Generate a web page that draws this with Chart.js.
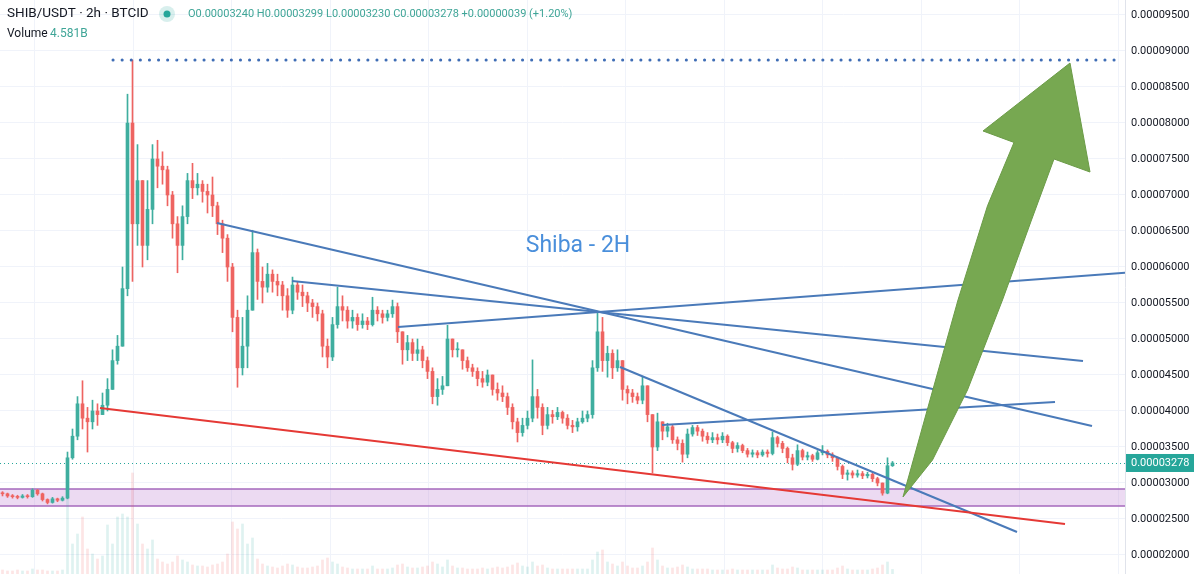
<!DOCTYPE html>
<html>
<head>
<meta charset="utf-8">
<script src="https://cdn.jsdelivr.net/npm/chart.js@4.4.1/dist/chart.umd.min.js"></script>
<style>
  html, body { margin: 0; padding: 0; background: #ffffff; }
  #wrap { width: 1200px; height: 574px; position: relative; }
</style>
</head>
<body>
<div id="wrap"><canvas id="shib_canvas"></canvas></div>
<script>
// prices in units of 0.000001 USDT, one candle per 2h
const first_open = 28.6;
const closes = [
  28.5, 28.2, 28.1, 28.0, 28.2, 28.1, 29.0, 28.5, 27.7, 27.3,
  27.8, 27.6, 27.9, 33.5, 36.5, 41.0, 39.0, 38.5, 40.0, 39.5,
  40.8, 43.0, 47.0, 49.0, 57.0, 80.0, 66.0, 72.0, 63.0, 68.0,
  75.0, 74.0, 73.5, 70.0, 66.0, 63.0, 67.0, 72.0, 71.0, 71.5,
  70.5, 70.0, 68.5, 66.0, 64.0, 60.0, 53.0, 46.0, 49.0, 54.0,
  62.0, 58.0, 57.2, 59.0, 58.0, 57.5, 56.0, 54.0, 57.5, 56.5,
  56.0, 55.0, 54.5, 53.5, 49.0, 47.5, 52.0, 54.5, 54.0, 52.5,
  53.0, 52.0, 52.5, 52.0, 54.0, 53.5, 53.0, 53.5, 54.5, 51.0,
  48.5, 49.5, 48.0, 48.5, 47.0, 45.5, 42.0, 43.0, 43.5, 50.0,
  48.5, 48.5, 47.0, 46.0, 45.5, 44.5, 44.0, 45.0, 43.0, 42.5,
  42.0, 40.5, 38.5, 37.0, 38.0, 39.0, 42.0, 40.5, 38.0, 39.5,
  39.2, 39.8, 39.0, 38.0, 37.8, 38.5, 39.0, 39.5, 46.0, 51.0,
  47.0, 48.0, 46.0, 47.0, 43.0, 42.5, 42.0, 41.5, 43.5, 39.5,
  35.0, 38.5, 37.2, 37.8, 36.0, 35.5, 34.0, 36.8, 37.7, 37.2,
  36.5, 36.0, 36.3, 36.0, 36.5, 35.6, 34.8, 35.2, 34.5, 34.0,
  34.2, 33.9, 34.3, 34.1, 36.3, 35.5, 34.8, 33.5, 32.6, 34.5,
  33.6, 33.8, 33.3, 34.2, 34.4, 33.9, 33.5, 32.3, 31.2, 31.4,
  31.1, 31.3, 31.0, 31.2, 30.6, 30.0, 28.6, 32.4, 32.78
];
const highs = [
  28.8, 28.6, 28.4, 28.3, 28.4, 28.4, 29.2, 29.1, 28.6, 27.8,
  28.0, 27.9, 28.1, 34.3, 37.5, 42.0, 44.2, 40.5, 41.5, 41.0,
  42.5, 44.5, 48.5, 50.5, 60.0, 84.0, 88.75, 77.0, 72.0, 72.0,
  77.0, 77.6, 76.0, 74.0, 70.5, 67.0, 68.5, 73.0, 74.4, 73.0,
  72.0, 71.5, 72.5, 69.0, 66.5, 64.5, 60.5, 54.0, 53.0, 56.0,
  65.1, 62.5, 60.0, 60.5, 59.6, 59.0, 58.0, 57.0, 58.6, 58.0,
  57.5, 56.5, 55.5, 55.0, 54.0, 50.0, 53.0, 57.2, 56.0, 54.5,
  54.0, 53.5, 53.5, 53.0, 55.8, 54.5, 54.0, 54.0, 55.4, 55.0,
  51.0, 50.5, 50.0, 50.0, 49.0, 47.5, 46.0, 44.5, 44.8, 51.9,
  50.0, 49.5, 48.5, 47.5, 46.5, 46.0, 45.5, 45.7, 45.0, 43.9,
  43.5, 42.5, 41.0, 39.0, 39.0, 40.0, 47.1, 43.0, 41.0, 40.5,
  40.1, 40.5, 40.0, 39.5, 38.7, 39.0, 40.0, 40.0, 47.0, 53.6,
  53.0, 49.0, 48.5, 48.5, 47.0, 43.5, 43.0, 42.5, 44.7, 43.5,
  39.5, 39.7, 38.5, 38.3, 38.0, 36.4, 36.0, 37.5, 38.0, 38.0,
  37.5, 37.0, 37.0, 36.8, 37.0, 36.7, 35.8, 35.6, 35.4, 34.8,
  34.6, 34.5, 34.6, 34.6, 37.1, 36.5, 35.8, 35.0, 34.0, 35.3,
  34.7, 34.3, 34.0, 34.5, 35.2, 34.6, 34.2, 33.6, 32.5, 31.8,
  31.7, 31.8, 31.6, 31.5, 31.4, 30.8, 30.0, 33.5, 32.99
];
const lows = [
  28.2, 28.0, 27.9, 27.8, 27.9, 27.9, 28.0, 28.3, 27.5, 27.1,
  27.2, 27.4, 27.5, 27.8, 33.3, 36.0, 37.5, 34.3, 37.5, 38.0,
  39.5, 40.0, 43.0, 46.5, 49.0, 56.0, 58.0, 63.0, 60.0, 61.0,
  66.0, 71.0, 71.5, 68.5, 64.0, 59.2, 61.0, 66.0, 69.5, 70.0,
  69.0, 67.5, 67.0, 64.5, 62.0, 58.0, 51.0, 43.3, 45.0, 46.0,
  54.0, 55.5, 55.0, 56.5, 56.5, 56.0, 54.0, 53.0, 53.5, 55.5,
  54.5, 53.8, 53.0, 52.5, 47.5, 46.0, 47.0, 51.5, 52.5, 51.5,
  51.5, 51.2, 51.5, 51.3, 51.8, 52.5, 52.2, 52.5, 53.0, 49.5,
  46.5, 47.0, 47.0, 47.0, 46.0, 44.5, 41.0, 40.8, 42.3, 43.5,
  47.5, 47.5, 45.8, 45.5, 44.8, 43.5, 43.3, 43.5, 42.2, 41.5,
  41.3, 39.5, 37.5, 35.7, 36.5, 37.5, 38.5, 39.0, 36.7, 37.5,
  38.3, 38.8, 38.3, 37.5, 37.0, 37.2, 38.3, 38.5, 39.0, 45.5,
  45.5, 44.7, 44.5, 45.5, 41.5, 41.0, 41.2, 41.0, 41.0, 38.5,
  31.4, 34.5, 36.0, 36.4, 35.5, 34.6, 32.9, 33.5, 36.5, 36.6,
  35.8, 35.5, 35.6, 35.4, 35.6, 35.2, 34.2, 34.3, 34.2, 33.6,
  33.6, 33.5, 33.7, 33.6, 33.9, 35.0, 34.2, 32.8, 31.8, 32.4,
  33.2, 33.2, 33.0, 33.2, 33.9, 33.5, 33.0, 31.8, 30.6, 30.4,
  30.7, 30.8, 30.6, 30.7, 30.2, 29.6, 28.3, 28.5, 32.30
];
// volume in billions
const volumes = [
  4, 3, 3, 4, 3, 3, 5, 4, 4, 3,
  3, 3, 4, 77, 30, 40, 57, 25, 20, 15,
  18, 49, 30, 57, 60, 57, 101, 50, 30, 25,
  34, 15, 12, 10, 12, 18, 14, 12, 9, 8,
  8, 7, 9, 10, 12, 20, 52, 45, 50, 30,
  36, 15, 10, 8, 7, 6, 8, 10, 9, 7,
  6, 6, 7, 8, 14, 16, 12, 10, 7, 6,
  5, 5, 5, 5, 8, 5, 5, 5, 6, 9,
  10, 7, 6, 6, 7, 8, 12, 10, 7, 14,
  8, 6, 6, 5, 5, 5, 6, 5, 6, 7,
  6, 7, 9, 11, 8, 7, 12, 8, 9, 6,
  5, 5, 5, 5, 5, 5, 5, 5, 14, 22,
  24, 12, 10, 8, 12, 8, 6, 6, 8, 12,
  26, 14, 8, 6, 6, 7, 9, 7, 5, 5,
  5, 5, 4, 4, 4, 4, 5, 4, 4, 4,
  4, 4, 4, 4, 9, 6, 5, 5, 7, 6,
  4, 4, 4, 4, 4, 4, 4, 6, 8, 5,
  4, 4, 4, 4, 5, 6, 9, 12, 4.581
];
const y_ticks = [20, 25, 30, 35, 40, 45, 50, 55, 60, 65, 70, 75, 80, 85, 90, 95];
const last_price = 32.78;

// drawings: [candle index, price]
const ath_line = [[22.1, 88.75], [223.5, 88.75]];
const support_line = [[19.5, 40.42], [212.5, 24.31]];
const trend_lines = [
  [[42.9, 66.11], [217.9, 37.92]],
  [[57.9, 58.06], [216.1, 46.94]],
  [[79.1, 51.67], [224.5, 59.2]],
  [[123.5, 46.11], [202.9, 23.19]],
  [[131.9, 38.06], [210.5, 41.25]]
];
const zone = { top: 29.17, bottom: 26.81 };
const arrow_points = [
  [180.1, 28.06], [185.5, 41.53], [191.1, 55.42], [197.0, 68.5], [202.3, 77.3],
  [196.1, 78.89], [213.5, 88.33], [217.5, 73.19], [210.3, 75.0],
  [205.8, 66.53], [200.0, 55.42], [193.0, 42.92], [186.0, 33.19]
];
const title_pos = [115.1, 62.9];

const up_color = '#3fae9f';
const down_color = '#ee6461';

let opens = closes.map((c, i) => i === 0 ? first_open : closes[i - 1]);
let is_up = closes.map((c, i) => c >= opens[i]);

let wick_data = closes.map((c, i) => ({
  x: i,
  y: [Math.min(lows[i], opens[i], c), Math.max(highs[i], opens[i], c)]
}));
let body_data = closes.map((c, i) => ({ x: i, y: [opens[i], c] }));
let volume_data = volumes.map((v, i) => ({ x: i, y: v }));
let candle_colors = is_up.map(u => u ? up_color : down_color);
let volume_colors = is_up.map(u => u ? 'rgba(38,166,154,0.15)' : 'rgba(239,83,80,0.15)');

function to_xy(points) {
  return points.map(p => ({ x: p[0], y: p[1] }));
}

function line_dataset(points, color, extra) {
  return Object.assign({
    type: 'line',
    data: to_xy(points),
    borderColor: color,
    borderWidth: 2,
    pointRadius: 0,
    fill: false,
    yAxisID: 'y',
    order: 1
  }, extra || {});
}

let datasets = [
  {
    label: 'Volume',
    data: volume_data,
    backgroundColor: volume_colors,
    barThickness: 2,
    grouped: false,
    yAxisID: 'yv',
    order: 10
  },
  {
    label: 'Wicks',
    data: wick_data,
    backgroundColor: candle_colors,
    barThickness: 1,
    grouped: false,
    yAxisID: 'y',
    order: 9
  },
  {
    label: 'Bodies',
    data: body_data,
    backgroundColor: candle_colors,
    barThickness: 3,
    minBarLength: 1,
    grouped: false,
    yAxisID: 'y',
    order: 8
  },
  line_dataset(ath_line, '#3f6db5', { borderWidth: 3, borderDash: [0.1, 9], borderCapStyle: 'round' }),
  line_dataset(support_line, '#e53935')
];
trend_lines.forEach(l => datasets.push(line_dataset(l, '#4a7ab9')));

const drawings_plugin = {
  id: 'drawings',
  beforeDatasetsDraw(chart) {
    let ctx = chart.ctx;
    let y = chart.scales.y, area = chart.chartArea;
    let top = y.getPixelForValue(zone.top);
    let bottom = y.getPixelForValue(zone.bottom);
    ctx.save();
    ctx.fillStyle = 'rgba(196, 140, 216, 0.32)';
    ctx.fillRect(area.left, top, area.right - area.left, bottom - top);
    ctx.strokeStyle = '#a569bd';
    ctx.lineWidth = 1.5;
    ctx.beginPath();
    ctx.moveTo(area.left, top); ctx.lineTo(area.right, top);
    ctx.moveTo(area.left, bottom); ctx.lineTo(area.right, bottom);
    ctx.stroke();

    // last price line
    let py = Math.round(y.getPixelForValue(last_price)) + 0.5;
    ctx.strokeStyle = '#26a69a';
    ctx.lineWidth = 1;
    ctx.setLineDash([1, 3]);
    ctx.beginPath();
    ctx.moveTo(area.left, py); ctx.lineTo(area.right, py);
    ctx.stroke();
    ctx.restore();
  },
  afterDatasetsDraw(chart) {
    let ctx = chart.ctx;
    let x = chart.scales.x, y = chart.scales.y;
    ctx.save();
    ctx.fillStyle = '#77a851';
    ctx.strokeStyle = '#6b9b47';
    ctx.lineWidth = 1;
    ctx.beginPath();
    arrow_points.forEach((p, i) => {
      let px = x.getPixelForValue(p[0]), py = y.getPixelForValue(p[1]);
      if (i === 0) ctx.moveTo(px, py); else ctx.lineTo(px, py);
    });
    ctx.closePath();
    ctx.fill();
    ctx.stroke();

    ctx.fillStyle = '#4a8fdb';
    ctx.font = '23px Roboto';
    ctx.textAlign = 'center';
    ctx.textBaseline = 'middle';
    ctx.fillText('Shiba - 2H', x.getPixelForValue(title_pos[0]), y.getPixelForValue(title_pos[1]));
    ctx.restore();
  },
  afterDraw(chart) {
    let ctx = chart.ctx;
    let y = chart.scales.y, area = chart.chartArea;
    ctx.save();
    ctx.textBaseline = 'middle';
    ctx.textAlign = 'left';

    // price axis labels
    ctx.fillStyle = '#131722';
    ctx.font = '11px Roboto';
    y_ticks.forEach(v => {
      ctx.fillText((v / 1e6).toFixed(8), area.right + 6, y.getPixelForValue(v));
    });

    // last price label on the axis
    let py = y.getPixelForValue(last_price);
    ctx.fillStyle = '#26a69a';
    ctx.fillRect(area.right + 1, py - 9, 68, 18);
    ctx.fillStyle = '#ffffff';
    ctx.fillText((last_price / 1e6).toFixed(8), area.right + 6, py);

    // header
    ctx.fillStyle = '#131722';
    ctx.font = '13.5px Roboto';
    ctx.fillText('SHIB/USDT \u00b7 2h \u00b7 BTCID', 7, 14);
    ctx.fillStyle = 'rgba(38,166,154,0.18)';
    ctx.beginPath(); ctx.arc(167, 14, 8, 0, Math.PI * 2); ctx.fill();
    ctx.fillStyle = '#26a69a';
    ctx.beginPath(); ctx.arc(167, 14, 3.5, 0, Math.PI * 2); ctx.fill();
    ctx.font = '11px Roboto';
    ctx.fillStyle = '#3fa597';
    ctx.fillText('O0.00003240 H0.00003299 L0.00003230 C0.00003278 +0.00000039 (+1.20%)', 188, 14);
    ctx.fillStyle = '#131722';
    ctx.font = '12px Roboto';
    ctx.fillText('Volume', 7, 34);
    ctx.fillStyle = '#3fa597';
    ctx.fillText('4.581B', 50, 34);
    ctx.restore();
  }
};

new Chart(document.getElementById('shib_canvas'), {
  type: 'bar',
  data: { datasets: datasets },
  plugins: [drawings_plugin],
  options: {
    responsive: true,
    maintainAspectRatio: false,
    animation: false,
    layout: { padding: 0 },
    plugins: {
      legend: { display: false },
      tooltip: { enabled: false }
    },
    scales: {
      x: {
        type: 'linear',
        min: -0.5,
        max: 224.5,
        offset: false,
        grid: { color: '#f0f3fa', drawTicks: false },
        border: { display: false },
        ticks: { display: false },
        afterBuildTicks: (scale) => {
          let ticks = [];
          for (let v = 16.3; v < 224; v += 19.7) ticks.push({ value: v });
          scale.ticks = ticks;
        },
        afterFit: (scale) => { scale.height = 0; }
      },
      y: {
        type: 'linear',
        position: 'right',
        min: 17.361,
        max: 97.083,
        grid: { color: '#f0f3fa', drawTicks: false },
        border: { display: true, color: '#e0e3eb' },
        ticks: { display: false },
        afterBuildTicks: (scale) => {
          scale.ticks = y_ticks.map(v => ({ value: v }));
        },
        afterFit: (scale) => { scale.width = 75; }
      },
      yv: {
        type: 'linear',
        display: false,
        min: 0,
        max: 574
      }
    }
  }
});
</script>
</body>
</html>
